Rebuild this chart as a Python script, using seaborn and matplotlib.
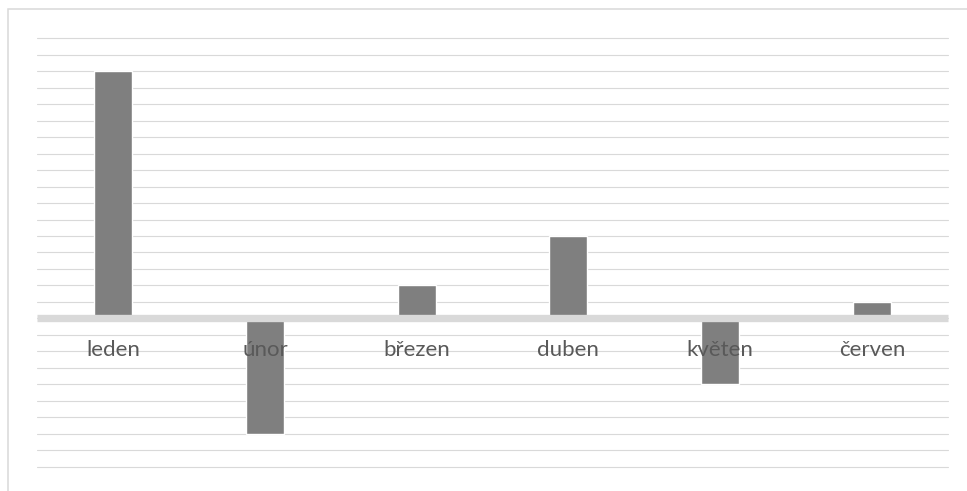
import matplotlib
matplotlib.use("Agg")
import matplotlib.pyplot as plt
import matplotlib.transforms as mtransforms
import seaborn as sns
import pandas as pd
from matplotlib.patches import Rectangle

# Monthly values
months = ["leden", "únor", "březen", "duben", "květen", "červen"]
values = [15, -7, 2, 5, -4, 1]

df = pd.DataFrame({"mesic": months, "hodnota": values})

sns.set_theme(style="white")
plt.rcParams["font.family"] = ["Lato", "DejaVu Sans"]

fig = plt.figure(figsize=(9.67, 4.91), dpi=100)
ax = fig.add_axes([37.3 / 967, 1 - 466.7 / 491, (947.7 - 37.3) / 967, (466.7 - 38.3) / 491])

sns.barplot(data=df, x="mesic", y="hodnota", color="#7f7f7f", saturation=1,
            width=0.25, ax=ax, zorder=2)

ax.set_xlim(-0.5, 5.5)
ax.set_ylim(-9, 17)
ax.set_yticks(range(-9, 18))
ax.yaxis.grid(True, color="#d9d9d9", linewidth=0.8)
ax.set_axisbelow(True)
for gl in ax.get_ygridlines():
    gl.set_clip_on(False)
ax.tick_params(axis="y", left=False, labelleft=False)

# Thick category axis at zero
for side in ("left", "right", "top"):
    ax.spines[side].set_visible(False)
ax.spines["bottom"].set_position(("data", 0))
ax.spines["bottom"].set_color("#d9d9d9")
ax.spines["bottom"].set_linewidth(5.3)
ax.spines["bottom"].set_capstyle("butt")
ax.spines["bottom"].set_zorder(3)
ax.tick_params(axis="x", bottom=False, labelbottom=False)
ax.set_xlabel("")
ax.set_ylabel("")

# Category labels just under the axis, drawn above the bars
offset = mtransforms.ScaledTranslation(0, -27.2 / 72, fig.dpi_scale_trans)
for i, name in enumerate(months):
    ax.text(i, 0, name, transform=ax.transData + offset, ha="center",
            va="baseline", fontsize=16, color="#595959", zorder=5)

# Chart area border
fig.patches.append(Rectangle((8 / 967, -0.1), 1.2, 1 - 9 / 491 + 0.1,
                             transform=fig.transFigure, fill=False,
                             edgecolor="#d9d9d9", linewidth=1.1, zorder=0))

fig.savefig("out.png", dpi=100)
